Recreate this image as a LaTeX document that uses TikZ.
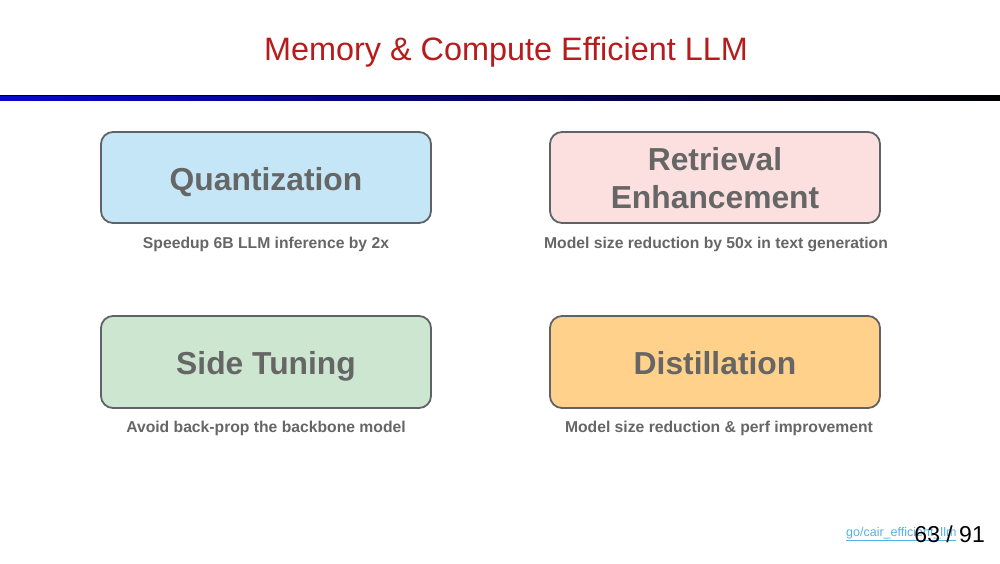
\documentclass[tikz,border=0pt]{standalone}
\usepackage{fontspec}
\setmainfont{Liberation Sans}
\definecolor{titlered}{RGB}{183,28,28}
\definecolor{rulegrey}{RGB}{95,99,104}
\definecolor{labelgrey}{RGB}{102,102,102}
\definecolor{quantfill}{RGB}{197,230,246}
\definecolor{retrfill}{RGB}{252,224,224}
\definecolor{sidefill}{RGB}{205,230,208}
\definecolor{distfill}{RGB}{255,209,138}
\definecolor{barblue}{RGB}{8,8,205}
\definecolor{linkblue}{RGB}{80,180,230}
\tikzset{
  topic/.style={draw=rulegrey, line width=1.8pt, rounded corners=12pt,
    minimum width=330pt, minimum height=91pt, inner sep=0pt, align=center,
    text=labelgrey, font=\bfseries\fontsize{31.8}{38}\selectfont},
  topiclabel/.style={inner sep=0pt, text=labelgrey, anchor=base,
    font=\bfseries\fontsize{31.8}{38}\selectfont},
  caption/.style={text=labelgrey, inner sep=0pt,
    font=\bfseries\fontsize{15.7}{18}\selectfont},
}
\begin{document}
\begin{tikzpicture}[x=1pt,y=-1pt]
\useasboundingbox (0,0) rectangle (1000,563);
\fill[white] (0,0) rectangle (1000,563);
% title
\node (title) at (506,52) {\fontsize{32.4}{38}\selectfont\color{titlered}Memory \& Compute Efficient LLM};
% header rule
\fill[black] (0,95) rectangle (1000,96.5);
\shade[left color=barblue, right color=black] (0,96.5) rectangle (1000,100.5);
% topic boxes
\draw[topic, fill=quantfill] (101,132) rectangle (431,223);
\draw[topic, fill=retrfill] (550,132) rectangle (880,223);
\draw[topic, fill=sidefill] (101,316) rectangle (431,408);
\draw[topic, fill=distfill] (550,316) rectangle (880,408);
\node[topiclabel] (quant) at (266,190) {Quantization};
\node[topic, draw=none] (retr) at (715,178) {Retrieval\\Enhancement};
\node[topiclabel] (side) at (266,374) {Side Tuning};
\node[topiclabel] (dist) at (715,374) {Distillation};
% captions
\node[caption] (cquant) at (266,244.5) {Speedup 6B LLM inference by 2x};
\node[caption] (cretr) at (716,244.5) {Model size reduction by 50x in text generation};
\node[caption] (cside) at (266,428.5) {Avoid back-prop the backbone model};
\node[caption] (cdist) at (719,428.5) {Model size reduction \& perf improvement};
% footer
\node[anchor=west, inner sep=0pt, text=linkblue] (link) at (846,534) {\fontsize{12.5}{14}\selectfont\underline{go/cair\_efficient\_llm}};
\node[anchor=east, inner sep=0pt] (page) at (985,534) {\fontsize{23}{28}\selectfont 63 / 91};
\end{tikzpicture}
\end{document}
